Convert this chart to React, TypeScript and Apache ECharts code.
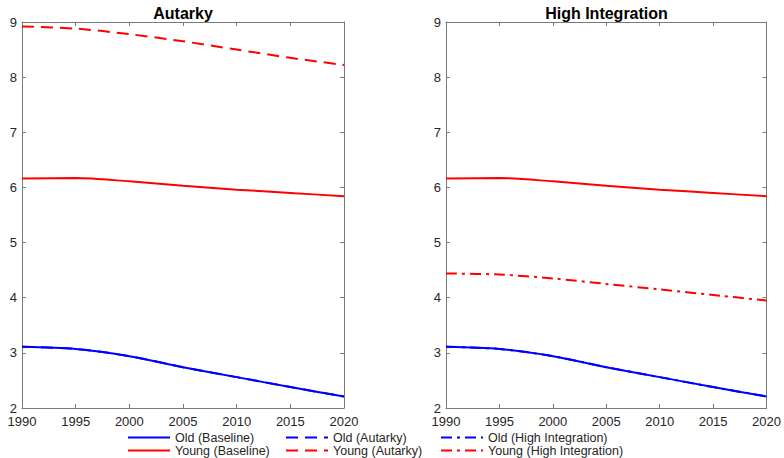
import React, { useEffect, useRef } from "react";
import * as echarts from "echarts";

const years = [1990, 1995, 2000, 2005, 2010, 2015, 2020];
const oldBaseline = [3.11, 3.07, 2.94, 2.74, 2.56, 2.38, 2.21];
const youngBaseline = [6.16, 6.17, 6.11, 6.03, 5.96, 5.9, 5.84];
const oldAutarky = [3.11, 3.07, 2.94, 2.74, 2.56, 2.38, 2.21];
const youngAutarky = [8.92, 8.88, 8.78, 8.65, 8.5, 8.35, 8.22];
const oldHighInt = [3.11, 3.07, 2.94, 2.74, 2.56, 2.38, 2.21];
const youngHighInt = [4.44, 4.42, 4.35, 4.25, 4.15, 4.05, 3.95];
const panelTitles = ["Autarky", "High Integration"];

const BLUE = "#0000ff";
const RED = "#ff0000";
const AXIS = "#7a7a7a";
const TXT = "#262626";
const FONT = "Liberation Sans, Arial, sans-serif";
const DASH = [12, 7];
const DASHDOT = [11, 5, 3, 5];

const pairs = (ys: number[]) => years.map((y, i) => [y, ys[i]]);

export default function App() {
  const ref = useRef<HTMLDivElement>(null);
  useEffect(() => {
    if (!ref.current) return;
    const chart = echarts.init(ref.current, null, { renderer: "svg" });
    const grids = [
      { left: 22, top: 22, width: 322, height: 386 },
      { left: 446, top: 22, width: 321, height: 386 },
    ];
    const xAxes: any[] = [];
    const yAxes: any[] = [];
    grids.forEach((_, g) => {
      const common = {
        gridIndex: g,
        type: "value",
        min: 1990,
        max: 2020,
        interval: 5,
        splitLine: { show: false },
        axisLine: { show: true, onZero: false, lineStyle: { color: AXIS, width: 1 } },
        axisTick: { show: true, inside: true, length: 4, lineStyle: { color: AXIS } },
      };
      xAxes.push({
        ...common,
        position: "bottom",
        axisLabel: {
          show: true,
          color: TXT,
          fontSize: 13,
          fontFamily: FONT,
          margin: 7,
          formatter: (v: number) => String(v),
        },
      });
      xAxes.push({ ...common, position: "top", axisLabel: { show: false } });
      const ycommon = {
        gridIndex: g,
        type: "value",
        min: 2,
        max: 9,
        interval: 1,
        splitLine: { show: false },
        axisLine: { show: true, onZero: false, lineStyle: { color: AXIS, width: 1 } },
        axisTick: { show: true, inside: true, length: 4, lineStyle: { color: AXIS } },
      };
      yAxes.push({
        ...ycommon,
        position: "left",
        axisLabel: { show: true, color: TXT, fontSize: 13, fontFamily: FONT, margin: 5 },
      });
      yAxes.push({ ...ycommon, position: "right", axisLabel: { show: false } });
    });

    const mk = (name: string, data: number[], color: string, type: any, g: number) => ({
      name,
      type: "line",
      xAxisIndex: g * 2,
      yAxisIndex: g * 2,
      data: pairs(data),
      smooth: 0.3,
      symbol: "none",
      showSymbol: false,
      lineStyle: { color, width: 2, type },
      itemStyle: { color },
    });

    const series = [
      mk("Old (Autarky)", oldAutarky, BLUE, DASH, 0),
      mk("Old (Baseline)", oldBaseline, BLUE, "solid", 0),
      mk("Young (Baseline)", youngBaseline, RED, "solid", 0),
      mk("Young (Autarky)", youngAutarky, RED, DASH, 0),
      mk("Old (High Integration)", oldHighInt, BLUE, DASHDOT, 1),
      mk("Old (Baseline)", oldBaseline, BLUE, "solid", 1),
      mk("Young (Baseline)", youngBaseline, RED, "solid", 1),
      mk("Young (High Integration)", youngHighInt, RED, DASHDOT, 1),
    ];

    const legendBase = {
      orient: "vertical",
      top: 431,
      height: 60,
      itemWidth: 42,
      itemHeight: 10,
      itemGap: 0,
      padding: 0,
      selectedMode: false,
      itemStyle: { opacity: 0 },
      textStyle: { color: TXT, fontSize: 12.5, fontFamily: FONT, lineHeight: 12 },
    };

    chart.setOption({
      animation: false,
      backgroundColor: "#ffffff",
      title: panelTitles.map((t, i) => ({
        text: t,
        left: grids[i].left + grids[i].width / 2,
        textAlign: "center",
        top: 5,
        padding: 0,
        textStyle: { fontSize: 16, fontWeight: "bold", color: "#000", fontFamily: FONT },
      })),
      grid: grids,
      xAxis: xAxes,
      yAxis: yAxes,
      legend: [
        { ...legendBase, left: 127, data: ["Old (Baseline)", "Young (Baseline)"] },
        { ...legendBase, left: 285, data: ["Old (Autarky)", "Young (Autarky)"] },
        { ...legendBase, left: 440, data: ["Old (High Integration)", "Young (High Integration)"] },
      ],
      series,
    });
    return () => chart.dispose();
  }, []);
  return <div ref={ref} style={{ width: 784, height: 458, position: "absolute", left: 0, top: 0 }} />;
}
